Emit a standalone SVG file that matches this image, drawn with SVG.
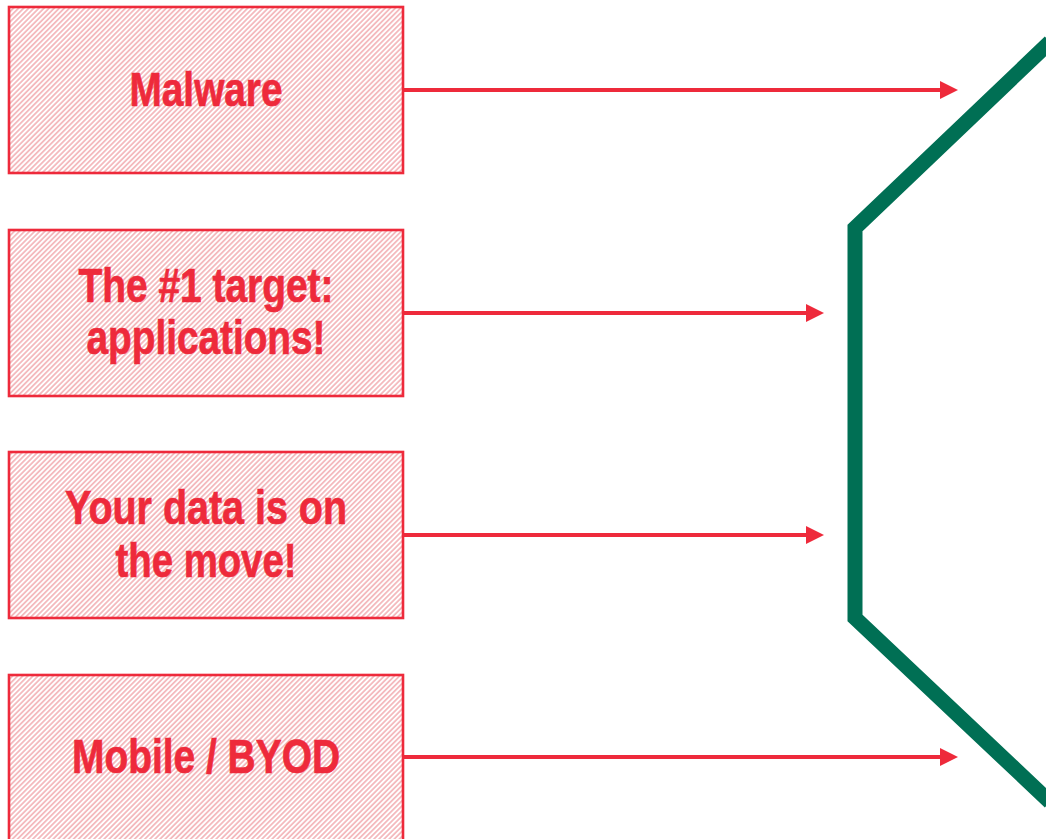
<svg xmlns="http://www.w3.org/2000/svg" width="1046" height="839" viewBox="0 0 1046 839">
<style>
.box{fill:url(#hatch);stroke:#ee2a3b;stroke-width:2.6}
.lbl{font-family:"Liberation Sans",Arial,sans-serif;font-weight:bold;font-size:48px;fill:#ee2a3b;stroke:#ee2a3b;stroke-width:0.7;text-anchor:middle}
.conn{stroke:#ee2a3b;stroke-width:4;fill:none;marker-end:url(#ah)}
</style>
<defs>
<pattern id="hatch" patternUnits="userSpaceOnUse" width="3.6" height="3.6" patternTransform="rotate(45)">
<rect width="3.6" height="3.6" fill="#ffffff"/>
<line x1="0.9" y1="0" x2="0.9" y2="3.6" stroke="#f4b6ba" stroke-width="1.7"/>
</pattern>
<marker id="ah" markerWidth="18" markerHeight="18" refX="0" refY="9" orient="auto" markerUnits="userSpaceOnUse">
<path d="M0,0 L18,9 L0,18 Z" fill="#ee2a3b"/>
</marker>
</defs>
<rect width="1046" height="839" fill="#ffffff"/>
<g id="n-malware">
<rect class="box" x="9" y="7" width="394" height="166"/>
<text class="lbl" x="206" y="106" textLength="153" lengthAdjust="spacingAndGlyphs">Malware</text>
</g>
<g id="n-target">
<rect class="box" x="9" y="230" width="394" height="166"/>
<text class="lbl" x="206" y="302" textLength="255" lengthAdjust="spacingAndGlyphs">The #1 target:</text>
<text class="lbl" x="206" y="354" textLength="239" lengthAdjust="spacingAndGlyphs">applications!</text>
</g>
<g id="n-data">
<rect class="box" x="9" y="452" width="394" height="166"/>
<text class="lbl" x="206" y="524" textLength="282" lengthAdjust="spacingAndGlyphs">Your data is on</text>
<text class="lbl" x="206" y="577" textLength="181" lengthAdjust="spacingAndGlyphs">the move!</text>
</g>
<g id="n-mobile">
<rect class="box" x="9" y="675" width="394" height="170"/>
<text class="lbl" x="206" y="773" textLength="268" lengthAdjust="spacingAndGlyphs">Mobile / BYOD</text>
</g>
<g id="n-wall">
<polyline points="1050,42 855,228 855,618 1050,802" fill="none" stroke="#006f54" stroke-width="15" stroke-linejoin="miter"/>
</g>
<g id="connectors">
<line class="conn" x1="404" y1="90" x2="940" y2="90"/>
<line class="conn" x1="404" y1="313" x2="806" y2="313"/>
<line class="conn" x1="404" y1="535" x2="806" y2="535"/>
<line class="conn" x1="404" y1="757" x2="940" y2="757"/>
</g>
</svg>
